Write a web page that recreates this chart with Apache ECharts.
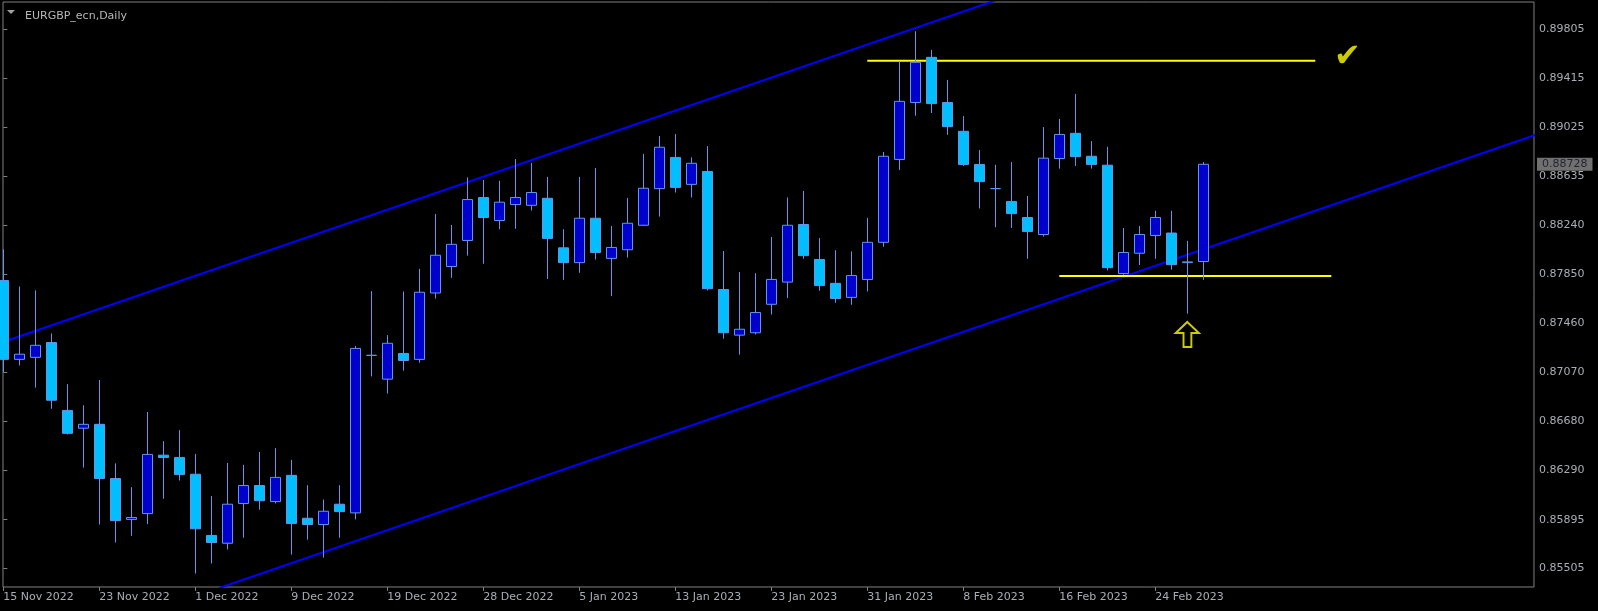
<!DOCTYPE html>
<html><head><meta charset="utf-8">
<script src="https://cdn.jsdelivr.net/npm/echarts@6/dist/echarts.min.js"></script>
<style>html,body{margin:0;padding:0;background:#000;}#c{width:1598px;height:611px;}</style>
</head><body><div id="c"></div>
<script>
// Trading days (index = candle position)
const dates = ["15 Nov 2022","16 Nov 2022","17 Nov 2022","18 Nov 2022","21 Nov 2022","22 Nov 2022","23 Nov 2022","24 Nov 2022","25 Nov 2022","28 Nov 2022","29 Nov 2022","30 Nov 2022",
"1 Dec 2022","2 Dec 2022","5 Dec 2022","6 Dec 2022","7 Dec 2022","8 Dec 2022","9 Dec 2022","12 Dec 2022","13 Dec 2022","14 Dec 2022","15 Dec 2022","16 Dec 2022",
"19 Dec 2022","20 Dec 2022","21 Dec 2022","22 Dec 2022","23 Dec 2022","27 Dec 2022","28 Dec 2022","29 Dec 2022","30 Dec 2022",
"2 Jan 2023","3 Jan 2023","4 Jan 2023","5 Jan 2023","6 Jan 2023","9 Jan 2023","10 Jan 2023","11 Jan 2023","12 Jan 2023","13 Jan 2023",
"16 Jan 2023","17 Jan 2023","18 Jan 2023","19 Jan 2023","20 Jan 2023","23 Jan 2023","24 Jan 2023","25 Jan 2023","26 Jan 2023","27 Jan 2023","30 Jan 2023","31 Jan 2023",
"1 Feb 2023","2 Feb 2023","3 Feb 2023","6 Feb 2023","7 Feb 2023","8 Feb 2023","9 Feb 2023","10 Feb 2023","13 Feb 2023","14 Feb 2023","15 Feb 2023","16 Feb 2023",
"17 Feb 2023","20 Feb 2023","21 Feb 2023","22 Feb 2023","23 Feb 2023","24 Feb 2023","27 Feb 2023","28 Feb 2023","1 Mar 2023"];

const opens = [0.87801,0.87173,0.87189,0.87307,0.86766,0.86624,0.86655,0.86223,0.85897,0.85943,0.86409,0.86391,
0.86257,0.85769,0.85707,0.86024,0.86167,0.86039,0.86248,0.85906,0.85856,0.86018,0.85949,0.87205,
0.87015,0.87220,0.87173,0.87702,0.87913,0.88121,0.88463,0.88280,0.88407,
0.88401,0.88457,0.88062,0.87944,0.88298,0.87978,0.88047,0.88242,0.88534,0.88783,
0.88568,0.88671,0.87730,0.87366,0.87385,0.87612,0.87789,0.88248,0.87969,0.87779,0.87667,0.87810,
0.88106,0.88767,0.89221,0.89581,0.89221,0.88991,0.88727,0.88534,0.88432,0.88304,0.88168,0.88774,
0.88975,0.88792,0.88721,0.87857,0.88019,0.88161,0.88180,0.87944,0.87953];
const closes = [0.87173,0.87214,0.87285,0.86847,0.86583,0.86655,0.86223,0.85887,0.85912,0.86415,0.86391,0.86254,
0.85822,0.85713,0.86018,0.86167,0.86046,0.86232,0.85865,0.85856,0.85962,0.85959,0.87260,0.87205,
0.87301,0.87164,0.87708,0.88003,0.88090,0.88447,0.88304,0.88426,0.88463,
0.88503,0.88137,0.87944,0.88298,0.88025,0.88065,0.88258,0.88537,0.88864,0.88544,
0.88736,0.87736,0.87385,0.87413,0.87546,0.87810,0.88242,0.88000,0.87761,0.87658,0.87841,0.88106,
0.88792,0.89230,0.89541,0.89212,0.89028,0.88727,0.88590,0.88534,0.88335,0.88193,0.88777,0.88966,
0.88789,0.88727,0.87904,0.88025,0.88168,0.88304,0.87928,0.87950,0.88728];
const lows = [0.87071,0.87124,0.86947,0.86779,0.86574,0.86310,0.85856,0.85713,0.85766,0.85859,0.86061,0.86207,
0.85465,0.85545,0.85657,0.85751,0.85974,0.86024,0.85617,0.85735,0.85592,0.85751,0.85897,0.87037,
0.86900,0.87083,0.87146,0.87658,0.87823,0.88000,0.87935,0.88211,0.88214,
0.88360,0.87814,0.87807,0.87863,0.87969,0.87677,0.87984,0.88236,0.88311,0.88503,
0.88463,0.87723,0.87338,0.87211,0.87372,0.87531,0.87661,0.87975,0.87720,0.87624,0.87608,0.87714,
0.88071,0.88683,0.89115,0.89137,0.88963,0.88715,0.88376,0.88227,0.88221,0.87975,0.88152,0.88693,
0.88715,0.88693,0.87882,0.87848,0.87925,0.87975,0.87888,0.87537,0.87807];
const highs = [0.88050,0.87754,0.87723,0.87379,0.86975,0.86807,0.87009,0.86344,0.86154,0.86754,0.86521,0.86608,
0.86419,0.86083,0.86347,0.86332,0.86434,0.86465,0.86372,0.86170,0.86055,0.86170,0.87279,0.87717,
0.87366,0.87714,0.87894,0.88332,0.88245,0.88624,0.88603,0.88596,0.88770,
0.88739,0.88628,0.88211,0.88628,0.88699,0.88236,0.88460,0.88811,0.88954,0.88969,
0.88783,0.88873,0.88037,0.87869,0.87860,0.88149,0.88463,0.88516,0.88140,0.88043,0.88034,0.88301,
0.88826,0.89550,0.89789,0.89640,0.89401,0.89112,0.88842,0.88724,0.88746,0.88475,0.89025,0.89090,
0.89289,0.88913,0.88867,0.88221,0.88236,0.88357,0.88357,0.88118,0.88746];

// Axis tick labels
const priceTicks = [0.89805,0.89415,0.89025,0.88635,0.88240,0.87850,0.87460,0.87070,0.86680,0.86290,0.85895,0.85505];
const dateTickIdx = [0,6,12,18,24,30,36,42,48,54,60,66,72];
const lastPrice = 0.88728;

// Drawn objects: channel trend lines [index, price]
const channelUpper = [[-1, 0.87268],[62, 0.90034]];
const channelLower = [[13.5, 0.85350],[96, 0.88972]];
// Yellow horizontal levels
const levelHigh = [[54, 0.89553],[82, 0.89553]];
const levelLow = [[66, 0.87838],[83, 0.87838]];
// Annotations
const checkMark = [[84, 0.89575]];
const upArrow = [[74, 0.87371]];
const xMax = 95.67;

const FONT = 'DejaVu Sans';
const LABEL = '#a9adb4';
const chart = echarts.init(document.getElementById('c'), null, {renderer:'canvas'});
const candleData = opens.map((o,i)=>[i, o, closes[i], lows[i], highs[i]]);

chart.setOption({
  backgroundColor: '#000000',
  animation: false,
  title: {text: 'EURGBP_ecn,Daily', left: 20, top: 6,
    textStyle: {color: '#b8b8b8', fontSize: 11, fontWeight: 'normal', fontFamily: FONT}},
  graphic: [{type:'polygon', shape:{points:[[7,10],[15,10],[11,14]]}, style:{fill:'#a0a0a0'}}],
  grid: {left: 3, right: 64, top: 2, bottom: 24, show: true, borderColor: '#808080', borderWidth: 1, backgroundColor: '#000'},
  xAxis: {
    type: 'value', min: -0.02, max: xMax, splitLine: {show:false},
    axisLine: {show:false},
    axisTick: {show:true, customValues: dateTickIdx, length: 4, lineStyle:{color:'#808080'}},
    axisLabel: {customValues: dateTickIdx, formatter: v => dates[Math.round(v)] || '', align:'left',
      color: LABEL, fontSize: 11, fontFamily: FONT, margin: 5}
  },
  yAxis: {
    type: 'value', position: 'right', min: 0.85358, max: 0.90022, scale: true,
    splitLine: {show:false}, axisLine: {show:false},
    axisTick: {show:true, customValues: priceTicks, length: 4, lineStyle:{color:'#808080'}},
    axisLabel: {customValues: priceTicks, formatter: v => v.toFixed(5), color: LABEL, fontSize: 11, fontFamily: FONT, margin: 5}
  },
  series: [
    {type:'line', data: channelUpper, symbol:'none', clip:true, silent:true, lineStyle:{color:'#0000ff', width:2}, z:3},
    {type:'line', data: channelLower, symbol:'none', clip:true, silent:true, lineStyle:{color:'#0000ff', width:2}, z:3},
    {type:'line', data: levelHigh, symbol:'none', clip:true, silent:true, lineStyle:{color:'#ffff00', width:2}, z:3},
    {type:'line', data: levelLow, symbol:'none', clip:true, silent:true, lineStyle:{color:'#ffff00', width:2}, z:3},
    {type:'candlestick', data: candleData, encode:{x:0, y:[1,2,3,4]}, barWidth: 10, clip: true, z:4,
      itemStyle:{color:'#0000cd', color0:'#00bfff', borderColor:'#6495ed', borderColor0:'#6495ed', borderWidth:1}
    },
    {type:'scatter', data: checkMark, symbol:'circle', symbolSize:2, silent:true, z:5,
      itemStyle:{color:'rgba(0,0,0,0)'},
      label:{show:true, position:'inside', formatter:'\u2714', color:'#ffff00', fontSize:32, fontFamily:FONT}},
    {type:'scatter', data: upArrow, silent:true, z:5,
      symbol:'path://M11.3,0 L22.6,11 L15.3,11 L15.3,25 L7.6,25 L7.6,11 L0,11 Z', symbolSize:[23,25],
      itemStyle:{color:'rgba(0,0,0,0)', borderColor:'#ffff00', borderWidth:2}},
    {type:'scatter', data: [[xMax, lastPrice]], clip:false, symbol:'circle', symbolSize:2, silent:true, z:6,
      itemStyle:{color:'rgba(0,0,0,0)'},
      label:{show:true, position:'right', distance:2, formatter: lastPrice.toFixed(5), backgroundColor:'#8c8c8c', color:'#101020',
        padding:[1,5,1,5], fontSize:11, fontFamily:FONT}}
  ]
});
</script></body></html>
